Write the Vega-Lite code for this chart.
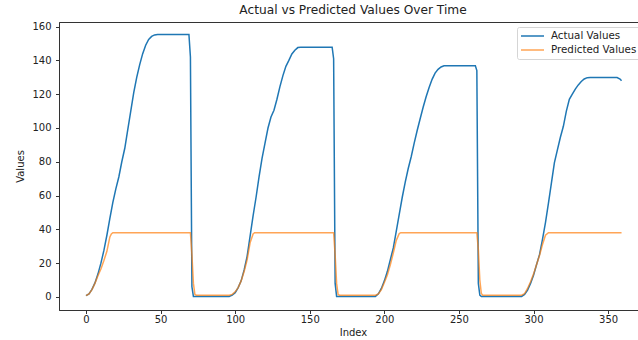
{
  "$schema": "https://vega.github.io/schema/vega-lite/v6.json",
  "autosize": {"type": "none"},
  "padding": {"left": 59, "top": 22, "right": 0, "bottom": 30},
  "width": 580,
  "height": 288,
  "background": "white",
  "title": {"text": "Actual vs Predicted Values Over Time", "font": "DejaVu Sans", "fontSize": 12.2, "fontWeight": "normal", "color": "#222", "offset": 5, "dx": 4},
  "config": {
    "view": {"stroke": "#333", "strokeWidth": 1},
    "axis": {"labelFont": "DejaVu Sans", "labelFontSize": 10, "labelColor": "#222", "titleFont": "DejaVu Sans", "titleFontSize": 10, "titleFontWeight": "normal", "titleColor": "#222", "tickColor": "#333", "domainColor": "#333", "tickSize": 3.5, "grid": false},
    "legend": {"labelFont": "DejaVu Sans", "labelFontSize": 10.3, "labelColor": "#222"}
  },
  "data": {"values": [
    {"index":0,"value":0.8,"series":"Actual Values"},{"index":2,"value":1.8,"series":"Actual Values"},{"index":4,"value":4.5,"series":"Actual Values"},{"index":6,"value":8.3,"series":"Actual Values"},{"index":8,"value":13.5,"series":"Actual Values"},{"index":10,"value":20,"series":"Actual Values"},{"index":12,"value":27.5,"series":"Actual Values"},{"index":14,"value":36.5,"series":"Actual Values"},{"index":16,"value":46.5,"series":"Actual Values"},{"index":18,"value":56,"series":"Actual Values"},{"index":20,"value":64,"series":"Actual Values"},{"index":22,"value":71,"series":"Actual Values"},{"index":24,"value":80,"series":"Actual Values"},{"index":26,"value":88,"series":"Actual Values"},{"index":28,"value":99,"series":"Actual Values"},{"index":30,"value":110,"series":"Actual Values"},{"index":32,"value":121,"series":"Actual Values"},{"index":34,"value":130,"series":"Actual Values"},{"index":36,"value":137.5,"series":"Actual Values"},{"index":38,"value":144,"series":"Actual Values"},{"index":40,"value":149,"series":"Actual Values"},{"index":42,"value":152.4,"series":"Actual Values"},{"index":44,"value":154.2,"series":"Actual Values"},{"index":46,"value":155.1,"series":"Actual Values"},{"index":48,"value":155.4,"series":"Actual Values"},{"index":69,"value":155.4,"series":"Actual Values"},{"index":70,"value":142,"series":"Actual Values"},{"index":71,"value":6,"series":"Actual Values"},{"index":72,"value":0.3,"series":"Actual Values"},{"index":96,"value":0.3,"series":"Actual Values"},{"index":98,"value":1,"series":"Actual Values"},{"index":100,"value":2.5,"series":"Actual Values"},{"index":102,"value":5.5,"series":"Actual Values"},{"index":104,"value":9.5,"series":"Actual Values"},{"index":106,"value":16,"series":"Actual Values"},{"index":108,"value":24,"series":"Actual Values"},{"index":110,"value":36,"series":"Actual Values"},{"index":112,"value":48,"series":"Actual Values"},{"index":114,"value":59,"series":"Actual Values"},{"index":116,"value":71,"series":"Actual Values"},{"index":118,"value":82,"series":"Actual Values"},{"index":120,"value":91,"series":"Actual Values"},{"index":122,"value":100,"series":"Actual Values"},{"index":124,"value":106.5,"series":"Actual Values"},{"index":126,"value":110.5,"series":"Actual Values"},{"index":128,"value":117,"series":"Actual Values"},{"index":130,"value":124.5,"series":"Actual Values"},{"index":132,"value":131,"series":"Actual Values"},{"index":134,"value":136.5,"series":"Actual Values"},{"index":136,"value":140,"series":"Actual Values"},{"index":138,"value":143.8,"series":"Actual Values"},{"index":140,"value":146,"series":"Actual Values"},{"index":142,"value":147.6,"series":"Actual Values"},{"index":144,"value":147.8,"series":"Actual Values"},{"index":165,"value":147.8,"series":"Actual Values"},{"index":166,"value":141,"series":"Actual Values"},{"index":167,"value":8,"series":"Actual Values"},{"index":168,"value":0.3,"series":"Actual Values"},{"index":194,"value":0.3,"series":"Actual Values"},{"index":196,"value":1.8,"series":"Actual Values"},{"index":198,"value":5,"series":"Actual Values"},{"index":200,"value":9.5,"series":"Actual Values"},{"index":202,"value":15,"series":"Actual Values"},{"index":204,"value":22,"series":"Actual Values"},{"index":206,"value":29,"series":"Actual Values"},{"index":208,"value":39,"series":"Actual Values"},{"index":210,"value":49,"series":"Actual Values"},{"index":212,"value":59,"series":"Actual Values"},{"index":214,"value":68,"series":"Actual Values"},{"index":216,"value":76,"series":"Actual Values"},{"index":218,"value":83,"series":"Actual Values"},{"index":220,"value":91,"series":"Actual Values"},{"index":222,"value":98.5,"series":"Actual Values"},{"index":224,"value":105.5,"series":"Actual Values"},{"index":226,"value":112.3,"series":"Actual Values"},{"index":228,"value":118.5,"series":"Actual Values"},{"index":230,"value":124,"series":"Actual Values"},{"index":232,"value":128.8,"series":"Actual Values"},{"index":234,"value":132.5,"series":"Actual Values"},{"index":236,"value":134.7,"series":"Actual Values"},{"index":238,"value":136.1,"series":"Actual Values"},{"index":240,"value":136.8,"series":"Actual Values"},{"index":261,"value":136.8,"series":"Actual Values"},{"index":262,"value":134,"series":"Actual Values"},{"index":263,"value":8,"series":"Actual Values"},{"index":264,"value":1,"series":"Actual Values"},{"index":265,"value":0.3,"series":"Actual Values"},{"index":292,"value":0.3,"series":"Actual Values"},{"index":294,"value":1.5,"series":"Actual Values"},{"index":296,"value":4,"series":"Actual Values"},{"index":298,"value":8,"series":"Actual Values"},{"index":300,"value":12.8,"series":"Actual Values"},{"index":302,"value":19,"series":"Actual Values"},{"index":304,"value":25,"series":"Actual Values"},{"index":306,"value":34,"series":"Actual Values"},{"index":308,"value":44,"series":"Actual Values"},{"index":310,"value":55.5,"series":"Actual Values"},{"index":312,"value":67.5,"series":"Actual Values"},{"index":314,"value":79.5,"series":"Actual Values"},{"index":316,"value":87,"series":"Actual Values"},{"index":318,"value":94.5,"series":"Actual Values"},{"index":320,"value":101,"series":"Actual Values"},{"index":322,"value":110,"series":"Actual Values"},{"index":324,"value":117,"series":"Actual Values"},{"index":326,"value":120,"series":"Actual Values"},{"index":328,"value":123,"series":"Actual Values"},{"index":330,"value":125.5,"series":"Actual Values"},{"index":332,"value":127.5,"series":"Actual Values"},{"index":334,"value":129,"series":"Actual Values"},{"index":336,"value":129.8,"series":"Actual Values"},{"index":338,"value":129.9,"series":"Actual Values"},{"index":356,"value":129.9,"series":"Actual Values"},{"index":358,"value":129,"series":"Actual Values"},{"index":359,"value":128,"series":"Actual Values"},
    {"index":0,"value":0.8,"series":"Predicted Values"},{"index":2,"value":1.8,"series":"Predicted Values"},{"index":4,"value":4.3,"series":"Predicted Values"},{"index":6,"value":8,"series":"Predicted Values"},{"index":8,"value":12.5,"series":"Predicted Values"},{"index":10,"value":16.5,"series":"Predicted Values"},{"index":12,"value":21.5,"series":"Predicted Values"},{"index":14,"value":27,"series":"Predicted Values"},{"index":16,"value":35.5,"series":"Predicted Values"},{"index":17,"value":37.3,"series":"Predicted Values"},{"index":18,"value":38,"series":"Predicted Values"},{"index":70,"value":38,"series":"Predicted Values"},{"index":71,"value":25,"series":"Predicted Values"},{"index":72,"value":8,"series":"Predicted Values"},{"index":73,"value":1.4,"series":"Predicted Values"},{"index":74,"value":1,"series":"Predicted Values"},{"index":96,"value":1,"series":"Predicted Values"},{"index":98,"value":1.5,"series":"Predicted Values"},{"index":100,"value":3,"series":"Predicted Values"},{"index":102,"value":5.5,"series":"Predicted Values"},{"index":104,"value":9.5,"series":"Predicted Values"},{"index":106,"value":15,"series":"Predicted Values"},{"index":108,"value":22,"series":"Predicted Values"},{"index":110,"value":32,"series":"Predicted Values"},{"index":112,"value":37.3,"series":"Predicted Values"},{"index":113,"value":38,"series":"Predicted Values"},{"index":166,"value":38,"series":"Predicted Values"},{"index":167,"value":25,"series":"Predicted Values"},{"index":168,"value":8,"series":"Predicted Values"},{"index":169,"value":1.4,"series":"Predicted Values"},{"index":170,"value":1,"series":"Predicted Values"},{"index":194,"value":1,"series":"Predicted Values"},{"index":196,"value":1.8,"series":"Predicted Values"},{"index":198,"value":4.3,"series":"Predicted Values"},{"index":200,"value":8.5,"series":"Predicted Values"},{"index":202,"value":13,"series":"Predicted Values"},{"index":204,"value":19,"series":"Predicted Values"},{"index":206,"value":26,"series":"Predicted Values"},{"index":208,"value":33.5,"series":"Predicted Values"},{"index":210,"value":37.5,"series":"Predicted Values"},{"index":211,"value":38,"series":"Predicted Values"},{"index":262,"value":38,"series":"Predicted Values"},{"index":263,"value":28,"series":"Predicted Values"},{"index":264,"value":10,"series":"Predicted Values"},{"index":265,"value":2,"series":"Predicted Values"},{"index":266,"value":1,"series":"Predicted Values"},{"index":292,"value":1,"series":"Predicted Values"},{"index":294,"value":2,"series":"Predicted Values"},{"index":296,"value":5,"series":"Predicted Values"},{"index":298,"value":9,"series":"Predicted Values"},{"index":300,"value":13.5,"series":"Predicted Values"},{"index":302,"value":19,"series":"Predicted Values"},{"index":304,"value":24.5,"series":"Predicted Values"},{"index":306,"value":31,"series":"Predicted Values"},{"index":308,"value":36.5,"series":"Predicted Values"},{"index":310,"value":38,"series":"Predicted Values"},{"index":359,"value":38,"series":"Predicted Values"}
  ]},
  "mark": {"type": "line", "strokeWidth": 1.5, "clip": true},
  "encoding": {
    "x": {"field": "index", "type": "quantitative", "scale": {"domain": [-18.1, 370.7], "nice": false, "zero": false},
      "axis": {"values": [0, 50, 100, 150, 200, 250, 300, 350], "title": "Index", "titleX": 294, "titlePadding": 3, "labelPadding": 1}},
    "y": {"field": "value", "type": "quantitative", "scale": {"domain": [-7.75, 162.75], "nice": false, "zero": false},
      "axis": {"values": [0, 20, 40, 60, 80, 100, 120, 140, 160], "title": "Values", "titlePadding": 6, "labelPadding": 4.5}},
    "color": {"field": "series", "type": "nominal",
      "scale": {"domain": ["Actual Values", "Predicted Values"], "range": ["#1f77b4", "#ff7f0e"]},
      "legend": {"title": null, "orient": "none", "legendX": 458, "legendY": 5, "symbolType": "M-2.3,0H2.3", "symbolSize": 100, "symbolOffset": 6.5, "symbolStrokeWidth": 1.5, "labelOffset": 12.5, "rowPadding": 2, "padding": 3, "strokeColor": "#d5d5d5", "fillColor": "white", "cornerRadius": 2}},
    "opacity": {"field": "series", "type": "nominal", "scale": {"domain": ["Actual Values", "Predicted Values"], "range": [1, 0.7]}, "legend": null}
  }
}
